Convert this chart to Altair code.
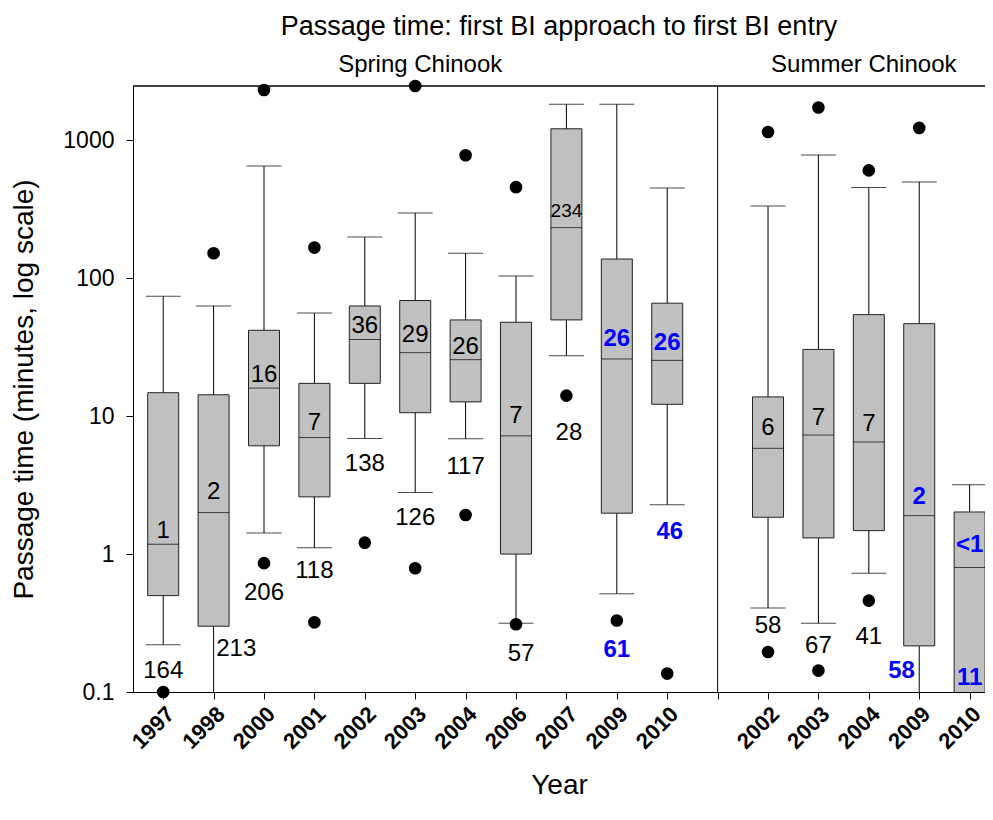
import altair as alt
import pandas as pd

# box positions on the x axis (slot 12 is the gap between the two runs)
slots = [1, 2, 3, 4, 5, 6, 7, 8, 9, 10, 11, 13, 14, 15, 16, 17]
years = ['1997', '1998', '2000', '2001', '2002', '2003', '2004', '2006', '2007', '2009', '2010',
         '2002', '2003', '2004', '2009', '2010']
runs = ['Spring'] * 11 + ['Summer'] * 5
tick_labels = ['1997', '1998', '2000', '2001', '2002', '2003', '2004', '2006', '2007', '2009', '2010',
               '', '2002', '2003', '2004', '2009', '2010']

# box statistics (minutes)
whisker_low = [0.22, 0.05, 1.42, 1.11, 6.9, 2.8, 6.85, 0.315, 27.4, 0.516, 2.28,
               0.406, 0.315, 0.726, 0.05, 0.03]
q1 = [0.50, 0.30, 6.1, 2.6, 17.3, 10.6, 12.7, 1.0, 49.9, 1.98, 12.2,
      1.85, 1.31, 1.48, 0.216, 0.05]
median = [1.18, 2.0, 16, 7.0, 36, 28.9, 25.7, 7.2, 233, 26, 25.4,
          5.85, 7.3, 6.5, 1.9, 0.80]
q3 = [14.8, 14.3, 42, 17.3, 63, 69, 49.9, 48, 1214, 138, 66,
      13.8, 30.5, 54.5, 46.9, 2.02]
whisker_high = [74, 63, 653, 56, 199, 298, 152, 104, 1830, 1830, 452,
                334, 785, 455, 500, 3.19]
outlier_low = [0.1, None, 0.86, 0.32, 1.21, 0.79, 1.92, 0.31, 14.1, 0.33, 0.136,
               0.195, 0.143, 0.46, None, None]
outlier_high = [None, 152, 2320, 167, None, 2480, 780, 458, None, None, None,
                1150, 1733, 606, 1231, None]

# annotations: median value and sample size, with where they sit
median_text = ['1', '2', '16', '7', '36', '29', '26', '7', '234', '26', '26',
               '6', '7', '7', '2', '<1']
median_text_at = [1.47, 2.8, 19.9, 8.9, 45, 38.5, 32, 10, 308, 36, 34,
                  8.2, 9.7, 8.75, 2.6, 1.17]
n_text = ['164', '213', '206', '118', '138', '126', '117', '57', '28', '61', '46',
          '58', '67', '41', '58', '11']
n_text_at = [0.141, 0.206, 0.52, 0.75, 4.5, 1.82, 4.3, 0.19, 7.6, 0.20, 1.44,
             0.30, 0.216, 0.25, 0.141, 0.127]
n_text_slot = [1, 2.45, 3, 4, 5, 6, 7, 8.1, 9.05, 10, 11.05,
               13, 14, 15, 15.65, 17]

run_titles = ['Spring Chinook', 'Summer Chinook']
run_title_slot = [6.1, 14.9]

df = pd.DataFrame({
    'slot': slots, 'year': years, 'run': runs,
    'lo': whisker_low, 'q1': q1, 'med': median, 'q3': q3, 'hi': whisker_high,
    'med_text': median_text, 'med_at': median_text_at,
    'n_text': n_text, 'n_at': n_text_at, 'n_slot': n_text_slot,
})
df['blue'] = df['year'].isin(['2009', '2010'])

out_rows = []
for s, lo, hi in zip(slots, outlier_low, outlier_high):
    for v in (lo, hi):
        if v is not None:
            out_rows.append({'slot': s, 'value': v})
outliers = pd.DataFrame(out_rows)

W, H = 852, 606
FONT = 'Liberation Sans'
x_dom = [0.5, 0.5 + W / 51.0]
y_top = 2480

label_expr = 'datum.value >= 1 && datum.value <= 17 ? ' + str(tick_labels) + '[datum.value - 1] : ""'

xs = alt.Scale(domain=x_dom, nice=False, zero=False)
ys = alt.Scale(type='log', domain=[0.1, y_top], nice=False)

x_enc = alt.X('slot:Q', scale=xs, axis=alt.Axis(
    values=list(range(1, 18)), labelExpr=label_expr, title='Year',
    labelAngle=315, labelFontWeight='bold', labelFontSize=22, labelPadding=4,
    titleFontSize=28, titleFontWeight='normal', titlePadding=19,
    grid=False, tickSize=7, tickColor='black', domainColor='black', labelColor='black',
    titleColor='black'))
y_enc = alt.Y('lo:Q', scale=ys, axis=alt.Axis(
    values=[0.1, 1, 10, 100, 1000], format='~g', title='Passage time (minutes, log scale)',
    labelFontSize=23, labelPadding=12, titleFontSize=28, titleFontWeight='normal',
    titlePadding=24, grid=False, tickSize=7, tickColor='black', domainColor='black',
    labelColor='black', titleColor='black'))

base = alt.Chart(df)

whiskers = base.mark_rule(color='black', strokeWidth=1, clip=True).encode(
    x=x_enc, y=y_enc, y2='hi:Q')
cap_lo = base.mark_tick(orient='horizontal', size=35, thickness=1, color='black', clip=True).encode(
    x=alt.X('slot:Q', scale=xs), y=alt.Y('lo:Q', scale=ys))
cap_hi = base.mark_tick(orient='horizontal', size=35, thickness=1, color='black', clip=True).encode(
    x=alt.X('slot:Q', scale=xs), y=alt.Y('hi:Q', scale=ys))
boxes = base.mark_bar(size=31, fill='#C0C0C0', stroke='#222222', strokeWidth=1, clip=True).encode(
    x=alt.X('slot:Q', scale=xs), y=alt.Y('q1:Q', scale=ys), y2='q3:Q')
med_line = base.mark_tick(orient='horizontal', size=31, thickness=1, color='black', clip=True).encode(
    x=alt.X('slot:Q', scale=xs), y=alt.Y('med:Q', scale=ys))

dots = alt.Chart(outliers).mark_point(filled=True, size=160, color='black', opacity=1).encode(
    x=alt.X('slot:Q', scale=xs), y=alt.Y('value:Q', scale=ys))

size_cond = alt.condition('length(datum.med_text) > 2', alt.value(19), alt.value(24))
med_black = base.transform_filter('!datum.blue').mark_text(
    font=FONT, color='black', baseline='middle').encode(
    x=alt.X('slot:Q', scale=xs), y=alt.Y('med_at:Q', scale=ys), text='med_text:N', size=size_cond)
med_blue = base.transform_filter('datum.blue').mark_text(
    font=FONT, color='#0000FF', fontWeight='bold', fontSize=24, baseline='middle').encode(
    x=alt.X('slot:Q', scale=xs), y=alt.Y('med_at:Q', scale=ys), text='med_text:N')
n_black = base.transform_filter('!datum.blue').mark_text(
    font=FONT, color='black', fontSize=24, baseline='middle').encode(
    x=alt.X('n_slot:Q', scale=xs), y=alt.Y('n_at:Q', scale=ys), text='n_text:N')
n_blue = base.transform_filter('datum.blue').mark_text(
    font=FONT, color='#0000FF', fontWeight='bold', fontSize=24, baseline='middle').encode(
    x=alt.X('n_slot:Q', scale=xs), y=alt.Y('n_at:Q', scale=ys), text='n_text:N')

divider = alt.Chart(pd.DataFrame({'slot': [12]})).mark_rule(color='black', strokeWidth=1).encode(
    x=alt.X('slot:Q', scale=xs), y=alt.value(0), y2=alt.value(H))
top_line = alt.Chart(pd.DataFrame({'v': [y_top]})).mark_rule(color='black', strokeWidth=1.5).encode(
    y=alt.Y('v:Q', scale=ys), x=alt.value(0), x2=alt.value(W))

run_df = pd.DataFrame({'slot': run_title_slot, 'name': run_titles})
run_text = alt.Chart(run_df).mark_text(font=FONT, fontSize=24, color='black', baseline='middle').encode(
    x=alt.X('slot:Q', scale=xs), y=alt.value(-21), text='name:N')

chart = alt.layer(
    whiskers, cap_lo, cap_hi, boxes, med_line, dots,
    med_black, med_blue, n_black, n_blue, divider, top_line, run_text
).properties(
    width=W, height=H,
    title=alt.TitleParams('Passage time: first BI approach to first BI entry', fontSize=27,
                          fontWeight='normal', font=FONT, anchor='middle', color='black', offset=12),
    autosize=alt.AutoSizeParams(type='none'),
    padding={'left': 125, 'top': 78, 'right': 0, 'bottom': 112},
).configure(font=FONT).configure_view(stroke=None)

chart.save('out.html', embed_options={'renderer': 'svg', 'actions': False})
